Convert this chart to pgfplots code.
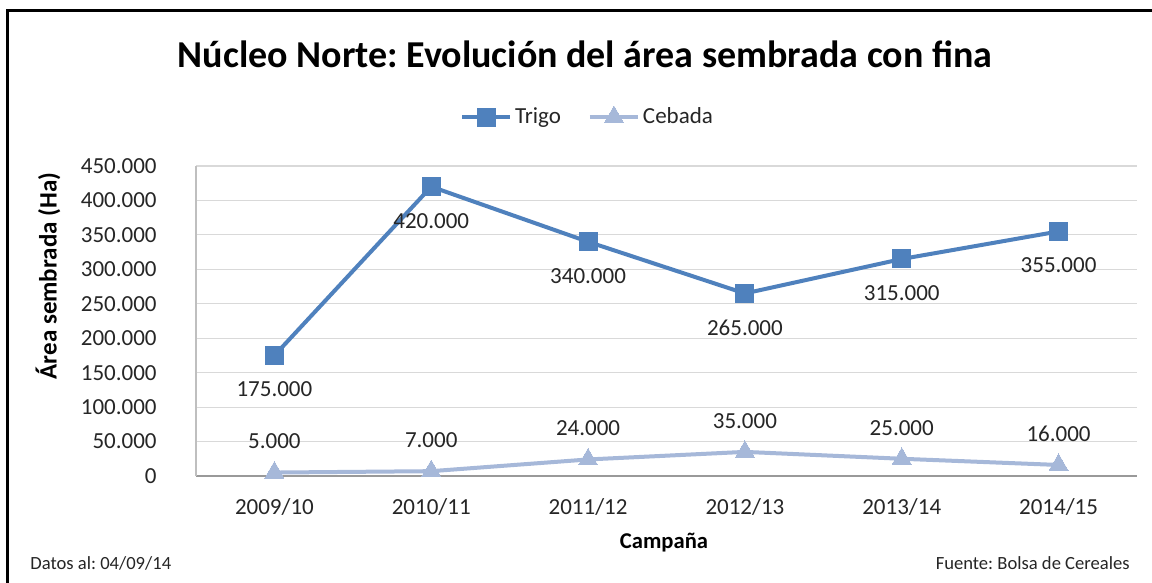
\documentclass[border=0pt]{standalone}
\usepackage{pgfplots}
\pgfplotsset{compat=1.18}
\usepackage{fontspec}
\setmainfont{Carlito}
\frenchspacing
\definecolor{trigo}{HTML}{4F81BD}
\definecolor{cebada}{HTML}{A6B8D9}
\definecolor{gridc}{HTML}{D9D9D9}
\definecolor{txt}{HTML}{262626}
\begin{document}
\frenchspacing
\begin{tikzpicture}
\path[use as bounding box] (0,0) rectangle (576bp,291.5bp);
\fill[white] (0,0) rectangle (576bp,291.5bp);
\draw[line width=1.5bp,black] (3.5bp,0) -- (3.5bp,286bp) -- (576bp,286bp);
\node[anchor=base,font=\fontsize{19bp}{22bp}\selectfont\bfseries,text=black] at (292.5bp,257.5bp) {Núcleo Norte: Evolución del área sembrada con fina};
\node[rotate=90,font=\fontsize{12.5bp}{14bp}\selectfont\bfseries,text=black] at (24bp,153.5bp) {Área sembrada (Ha)};
\node[font=\fontsize{11.3bp}{13bp}\selectfont\bfseries,text=black] at (332bp,20bp) {Campaña};
\node[anchor=west,font=\fontsize{9.3bp}{11bp}\selectfont,text=txt,inner sep=0pt] at (15bp,10bp) {Datos al: 04/09/14};
\node[anchor=east,font=\fontsize{9.3bp}{11bp}\selectfont,text=txt,inner sep=0pt] at (565bp,10bp) {Fuente: Bolsa de Cereales};
\begin{axis}[
  at={(98bp,53.5bp)}, anchor=south west,
  scale only axis, width=470.5bp, height=155bp,
  xmin=-0.5, xmax=5.5, ymin=0, ymax=450000,
  xtick={0,...,5},
  xticklabels={2009/10,2010/11,2011/12,2012/13,2013/14,2014/15},
  ytick={0,50000,...,450000},
  scaled y ticks=false,
  /pgf/number format/.cd, fixed, precision=0, 1000 sep={.}, assume math mode=true,
  /pgfplots/.cd,
  yticklabel={\pgfmathprintnumber{\tick}},
  major tick length=0pt,
  axis x line*=bottom, axis y line*=left,
  x axis line style={-,draw=black!40,line width=0.6bp},
  y axis line style={-,draw=black!25,line width=0.6bp},
  ymajorgrids, grid style={draw=gridc,line width=0.6bp},
  tick label style={font=\fontsize{11.5bp}{13bp}\selectfont,text=txt},
  xticklabel style={anchor=center,yshift=-15.5bp,inner sep=0pt},
  yticklabel style={anchor=east,xshift=-19.5bp,inner sep=0pt},
  clip=false,
  legend columns=2,
  legend style={at={(0.4166,1.158)},anchor=center,draw=none,fill=none,
    font=\fontsize{11.5bp}{13bp}\selectfont,text=txt,
    /tikz/every even column/.append style={column sep=12bp},
    inner sep=0pt, nodes={inner sep=1.5bp}},
  legend image code/.code={\draw[mark repeat=2,mark phase=2] plot coordinates {(0bp,0bp)(12bp,0bp)(24bp,0bp)};},
]
\addplot[color=trigo,line width=2bp,mark=square*,mark size=4.5bp,mark options={solid,fill=trigo,draw=trigo,line width=0pt},
  nodes near coords, every node near coord/.style={anchor=center,yshift=-17bp,font=\fontsize{11.5bp}{13bp}\selectfont,text=txt}]
  coordinates {(0,175000)(1,420000)(2,340000)(3,265000)(4,315000)(5,355000)};
\addlegendentry{Trigo}
\addplot[color=cebada,line width=2bp,mark=triangle*,mark size=5.5bp,mark options={solid,fill=cebada,draw=cebada,line width=0pt},
  nodes near coords, every node near coord/.style={anchor=center,yshift=15.5bp,font=\fontsize{11.5bp}{13bp}\selectfont,text=txt}]
  coordinates {(0,5000)(1,7000)(2,24000)(3,35000)(4,25000)(5,16000)};
\addlegendentry{Cebada}
\end{axis}
\end{tikzpicture}
\end{document}
